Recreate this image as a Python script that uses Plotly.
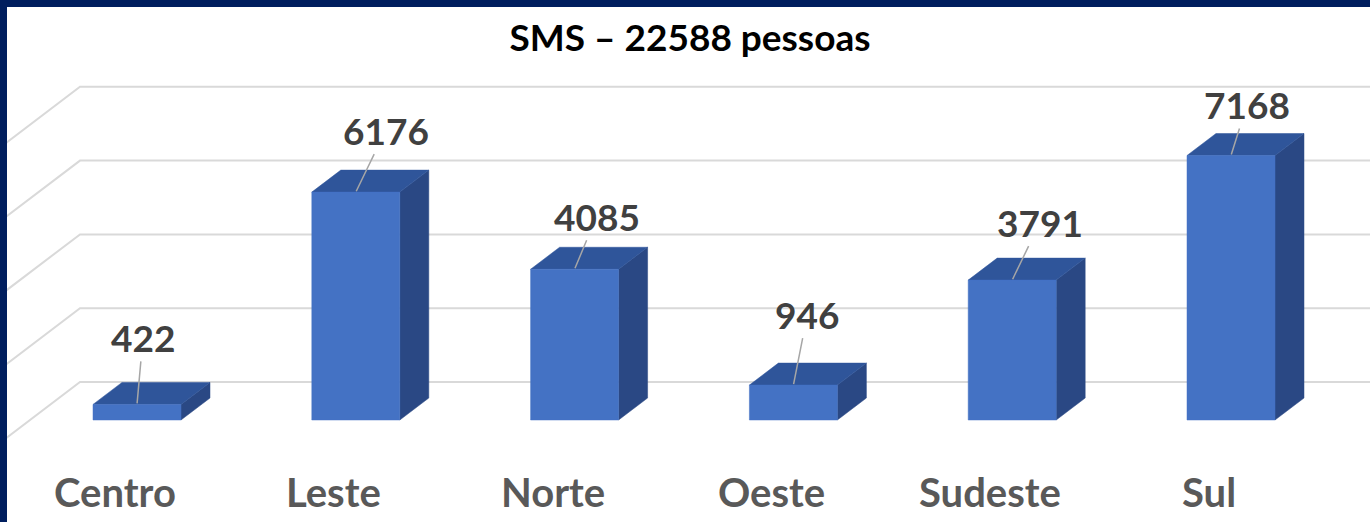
import plotly.graph_objects as go

# ---- data ----
categories = ["Centro", "Leste", "Norte", "Oeste", "Sudeste", "Sul"]
values = [422, 6176, 4085, 946, 3791, 7168]
title_text = "SMS – 22588 pessoas"
grid_values = [0, 2000, 4000, 6000, 8000]

# ---- layout / style constants (pixels) ----
W, H = 1370, 522
ML, MT = 7, 7
X0_PX, SX = 137.0, 218.8        # px of category 0, px per category
Y0_PX, SY = 420.0, 0.0369        # px of value 0 (front), px per unit
BAR_W_PX = 88
BAR_DX_PX, BAR_DY_PX = 29, 22    # bar depth offset
WALL_DX_PX, WALL_DY_PX = 50, 38  # back wall offset
WALL_LEFT_PX = 80
# label offsets (px) relative to front-top centre of bar
label_dx = [6, 30, 22, 14, 28, 16]
label_dy = [-67, -62, -53, -71, -58, -51]

FRONT, TOP, SIDE = "#4472C4", "#2F559A", "#2A4884"
GRID = "#D9D9D9"

def px_to_c(px):
    return (px - X0_PX) / SX

def dpx_c(d):
    return d / SX

def dpx_v(d):
    return d / SY

xr = [px_to_c(ML), px_to_c(W)]
yr = [(Y0_PX - H) / SY, (Y0_PX - MT) / SY]

fig = go.Figure()

# gridlines on back wall and left wall
wall_dc, wall_dv = dpx_c(WALL_DX_PX), dpx_v(WALL_DY_PX)
left_c = px_to_c(WALL_LEFT_PX)
for g in grid_values:
    yb = g + wall_dv
    fig.add_trace(go.Scatter(
        x=[left_c - 3 * wall_dc, left_c, xr[1] + 1],
        y=[yb - 3 * wall_dv, yb, yb],
        mode="lines", line=dict(color=GRID, width=2),
        hoverinfo="skip", showlegend=False))

bw = BAR_W_PX / SX
bdc, bdv = dpx_c(BAR_DX_PX), dpx_v(BAR_DY_PX)

for i, (cat, v) in enumerate(zip(categories, values)):
    l, r = i - bw / 2, i + bw / 2
    # side face
    fig.add_trace(go.Scatter(
        x=[r, r + bdc, r + bdc, r, r], y=[0, bdv, v + bdv, v, 0],
        fill="toself", fillcolor=SIDE, mode="lines",
        line=dict(color=SIDE, width=0.5), hoverinfo="skip", showlegend=False))
    # top face
    fig.add_trace(go.Scatter(
        x=[l, r, r + bdc, l + bdc, l], y=[v, v, v + bdv, v + bdv, v],
        fill="toself", fillcolor=TOP, mode="lines",
        line=dict(color=TOP, width=0.5), hoverinfo="skip", showlegend=False))
    # front face
    fig.add_trace(go.Scatter(
        x=[l, r, r, l, l], y=[0, 0, v, v, 0],
        fill="toself", fillcolor=FRONT, mode="lines",
        line=dict(color=FRONT, width=0.5), name=cat,
        hovertemplate=f"{cat}: {v}<extra></extra>", showlegend=False))

annotations = []
for i, (cat, v) in enumerate(zip(categories, values)):
    annotations.append(dict(
        x=i, y=v, xref="x", yref="y",
        text=f"<b>{v}</b>", showarrow=True, arrowhead=0, arrowwidth=1.5,
        arrowcolor="#A6A6A6", ax=label_dx[i], ay=label_dy[i], standoff=1,
        font=dict(family="Lato", size=37, color="#404040")))
    annotations.append(dict(
        x=i, y=0, xref="x", yref="y", text=f"<b>{cat}</b>", showarrow=False,
        xshift=-22, yshift=-72,
        font=dict(family="Lato", size=40, color="#595959")))

fig.update_layout(
    width=W, height=H,
    margin=dict(l=ML, t=MT, r=0, b=0, pad=0),
    paper_bgcolor="#001E5E", plot_bgcolor="white",
    title=dict(text=f"<b>{title_text}</b>", x=690 / W, xanchor="center",
               y=1 - 38 / H, yanchor="middle",
               font=dict(family="Lato", size=37, color="black")),
    xaxis=dict(range=xr, visible=False, fixedrange=True),
    yaxis=dict(range=yr, visible=False, fixedrange=True),
    annotations=annotations,
    showlegend=False,
)

fig.write_html(
    "out.html",
    config={"displayModeBar": False},
    post_script="document.body.style.margin='0';document.body.style.overflow='hidden';",
)
